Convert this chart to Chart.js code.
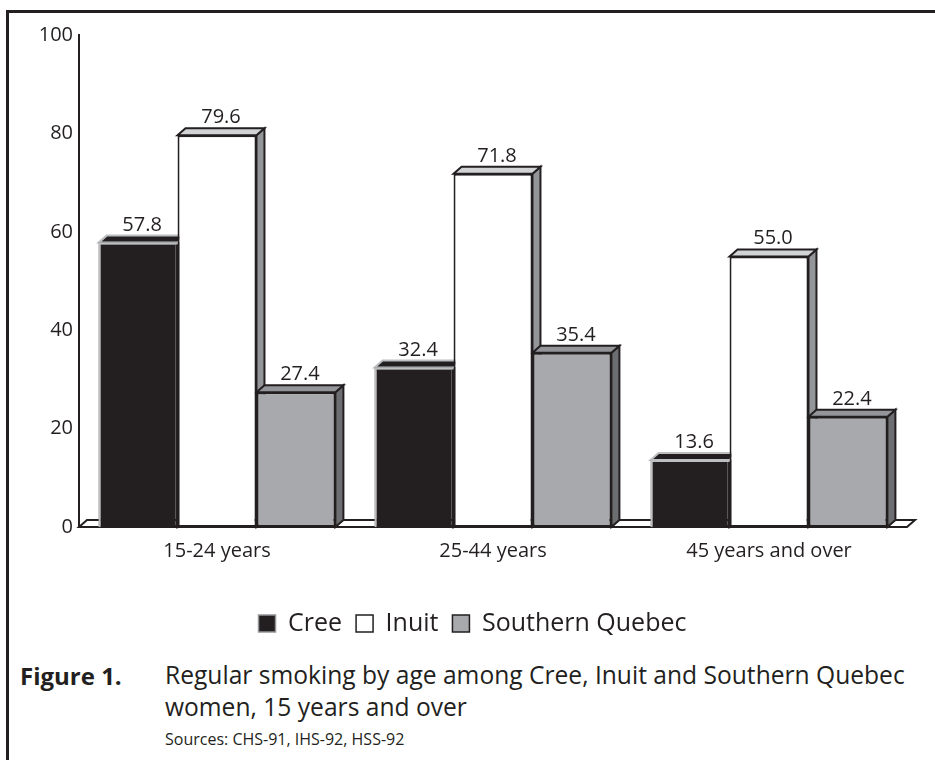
<!DOCTYPE html>
<html>
<head>
<meta charset="utf-8">
<script src="https://cdn.jsdelivr.net/npm/chart.js@4.4.1/dist/chart.umd.min.js"></script>
<style>
  body { margin: 0; background: #fff; }
  #wrap { position: relative; width: 935px; height: 760px; overflow: hidden; font-family: 'Open Sans', sans-serif; color: #231f20; }
  #frame { position: absolute; left: 6px; top: 10px; right: -20px; bottom: -20px; border-top: 3px solid #231f20; border-left: 3px solid #231f20; }
  #chart { position: absolute; left: 0; top: 0; }
  .fig { position: absolute; left: 20px; top: 660px; font-size: 24px; line-height: 32px; font-weight: bold; }
  .cap { position: absolute; left: 165px; top: 659px; font-size: 24.6px; line-height: 32px; }
  .src { position: absolute; left: 165px; top: 729px; font-size: 16px; line-height: 20px; }
</style>
</head>
<body>
<div id="wrap">
  <div id="frame"></div>
  <canvas id="chart" width="935" height="650"></canvas>
  <div class="fig">Figure 1.</div>
  <div class="cap">Regular smoking by age among Cree, Inuit and Southern Quebec<br>women, 15 years and over</div>
  <div class="src">Sources: CHS-91, IHS-92, HSS-92</div>
</div>
<script>
// valeurs
const categories = ['15-24 years', '25-44 years', '45 years and over'];
const cree = [57.8, 32.4, 13.6];
const inuit = [79.6, 71.8, 55.0];
const southernQuebec = [27.4, 35.4, 22.4];
const yTicks = [0, 20, 40, 60, 80, 100];

const DARK = '#231f20';
const DX = 8, DY = 7; // profondeur 3D

// couleurs des faces (dessus, côté droit, contour)
const faces = [
    { top: '#231f20', side: '#231f20', stroke: '#bcbec0' },
    { top: '#d1d3d4', side: '#939598', stroke: DARK },
    { top: '#939598', side: '#6d6e71', stroke: DARK }
];

function poly(ctx, pts, fill, stroke) {
    ctx.beginPath();
    ctx.moveTo(pts[0][0], pts[0][1]);
    for (let i = 1; i < pts.length; i++) ctx.lineTo(pts[i][0], pts[i][1]);
    ctx.closePath();
    ctx.fillStyle = fill;
    ctx.fill();
    ctx.strokeStyle = stroke;
    ctx.stroke();
}

const bars3d = {
    id: 'bars3d',
    beforeDatasetsDraw(chart) {
        const ctx = chart.ctx;
        const a = chart.chartArea;
        ctx.save();
        ctx.lineWidth = 2;
        ctx.lineJoin = 'miter';
        // plancher
        poly(ctx, [[a.left, a.bottom], [a.left + DX, a.bottom - DY], [a.right + DX, a.bottom - DY], [a.right, a.bottom]], '#fff', DARK);
        // faces de dessus et de côté
        chart.data.datasets.forEach((ds, i) => {
            const f = faces[i];
            chart.getDatasetMeta(i).data.forEach(bar => {
                const x0 = bar.x - bar.width / 2, x1 = bar.x + bar.width / 2;
                const yt = bar.y, yb = bar.base;
                poly(ctx, [[x1, yt], [x1 + DX, yt - DY], [x1 + DX, yb - DY], [x1, yb]], f.side, DARK);
                poly(ctx, [[x0, yt], [x0 + DX, yt - DY], [x1 + DX, yt - DY], [x1, yt]], f.top, f.stroke);
            });
        });
        ctx.restore();
    },
    afterDatasetsDraw(chart) {
        const ctx = chart.ctx;
        ctx.save();
        // bord clair de la barre Cree
        ctx.strokeStyle = '#bcbec0';
        ctx.lineWidth = 2;
        chart.getDatasetMeta(0).data.forEach(bar => {
            const x0 = bar.x - bar.width / 2;
            ctx.beginPath();
            ctx.moveTo(x0 + 1, bar.base);
            ctx.lineTo(x0 + 1, bar.y + 1);
            ctx.lineTo(bar.x + bar.width / 2, bar.y + 1);
            ctx.stroke();
        });
        // étiquettes de valeur
        ctx.fillStyle = DARK;
        ctx.font = '20px "Open Sans"';
        ctx.textAlign = 'center';
        ctx.textBaseline = 'alphabetic';
        chart.data.datasets.forEach((ds, i) => {
            chart.getDatasetMeta(i).data.forEach((bar, j) => {
                ctx.fillText(ds.data[j].toFixed(1), bar.x + DX / 2, bar.y - 12);
            });
        });
        ctx.restore();
    }
};

new Chart(document.getElementById('chart'), {
    type: 'bar',
    data: {
        labels: categories,
        datasets: [
            { label: 'Cree', data: cree, backgroundColor: DARK, borderColor: DARK, borderWidth: 2 },
            { label: 'Inuit', data: inuit, backgroundColor: '#ffffff', borderColor: DARK, borderWidth: 2 },
            { label: 'Southern Quebec', data: southernQuebec, backgroundColor: '#a7a9ac', borderColor: DARK, borderWidth: 2 }
        ]
    },
    options: {
        responsive: false,
        animation: false,
        devicePixelRatio: 1,
        datasets: { bar: { categoryPercentage: 0.858, barPercentage: 1, borderSkipped: false } },
        layout: { padding: { left: 38, right: 28, top: 35, bottom: 4 } },
        scales: {
            x: {
                grid: { display: false, drawTicks: false },
                border: { display: false },
                ticks: { color: DARK, padding: 12, font: { family: 'Open Sans', size: 20 } },
                afterFit: s => { s.height = 70; }
            },
            y: {
                min: 0,
                max: 100,
                grid: { display: false, drawTicks: false },
                border: { display: true, color: DARK, width: 2 },
                afterBuildTicks: s => { s.ticks = yTicks.map(v => ({ value: v })); },
                ticks: { color: DARK, padding: 6, font: { family: 'Open Sans', size: 20 } },
                afterFit: s => { s.width = 41; }
            }
        },
        plugins: {
            tooltip: { enabled: false },
            legend: {
                position: 'bottom',
                labels: {
                    color: DARK,
                    boxWidth: 17,
                    boxHeight: 17,
                    padding: 14,
                    font: { family: 'Open Sans', size: 25 },
                    generateLabels(chart) {
                        const items = Chart.defaults.plugins.legend.labels.generateLabels(chart);
                        items[0].strokeStyle = '#939598';
                        items.forEach(it => { it.lineWidth = 1.5; });
                        return items;
                    }
                }
            }
        }
    },
    plugins: [bars3d]
});
</script>
</body>
</html>
